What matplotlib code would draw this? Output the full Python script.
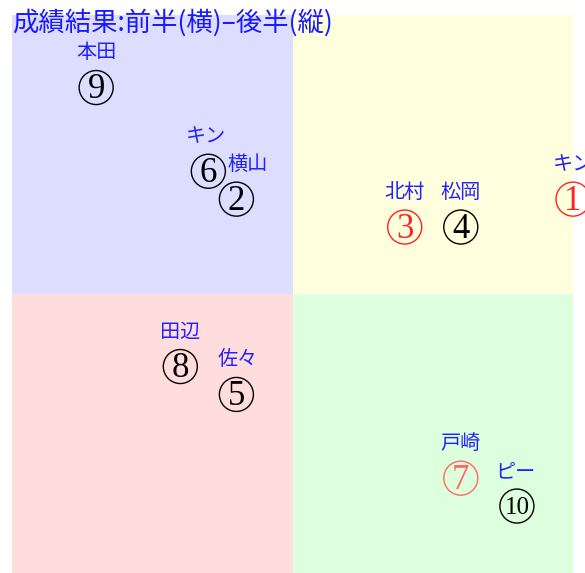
import matplotlib
matplotlib.use('Agg')
import matplotlib.pyplot as plt

plt.rcParams['font.family'] = ['Noto Sans CJK JP', 'DejaVu Sans']

# 前半(横) / 後半(縦) scores
nums = ['1', '2', '3', '4', '5', '6', '7', '8', '9', '10']
names = ['キン', '横山', '北村', '松岡', '佐々', 'キン', '戸崎', '田辺', '本田', 'ピー']
first_half = [100, 40, 70, 80, 40, 35, 80, 30, 15, 90]
second_half = [67, 67, 62, 62, 32, 72, 17, 37, 87, 12]
colors = ['#ff2222', 'black', '#ff2222', 'black', 'black', 'black', '#ff6666', 'black', 'black', 'black']

fig = plt.figure(figsize=(5.85, 5.73), dpi=100)
ax = fig.add_axes([12/585, 0, 561/585, 558/573])
ax.set_xlim(0, 100)
ax.set_ylim(0, 100)
ax.axis('off')

# quadrants
ax.fill_between([0, 50], 50, 100, color='#ddddff', lw=0)
ax.fill_between([50, 100], 50, 100, color='#ffffdd', lw=0)
ax.fill_between([0, 50], 0, 50, color='#ffdddd', lw=0)
ax.fill_between([50, 100], 0, 50, color='#ddffdd', lw=0)

# small horizontal nudges (points) so labels don't collide
nudge = [0, 8, 0, 0, 1, -2, 0, 0, 0, -1]

for i, (n, name, x, y, c) in enumerate(zip(nums, names, first_half, second_half, colors)):
    ax.scatter(x, y, s=600, facecolors='none', edgecolors=c, linewidths=1.0, clip_on=False, zorder=3)
    fs = 25 if len(n) == 1 else 18
    ax.text(x, y - 0.4, n, color=c, fontsize=fs, family='Liberation Serif',
            ha='center', va='center', clip_on=False, zorder=4)
    ax.annotate(name, (x, y), xytext=(nudge[i], 25), textcoords='offset points',
                ha='center', va='center', color='#2222ff', fontsize=14.5,
                annotation_clip=False)

fig.text(12/585, 1 - 23/573, '成績結果:前半(横)–後半(縦)', color='#1a1aff',
         fontsize=19, ha='left', va='center')

fig.savefig('out.png', dpi=100)
